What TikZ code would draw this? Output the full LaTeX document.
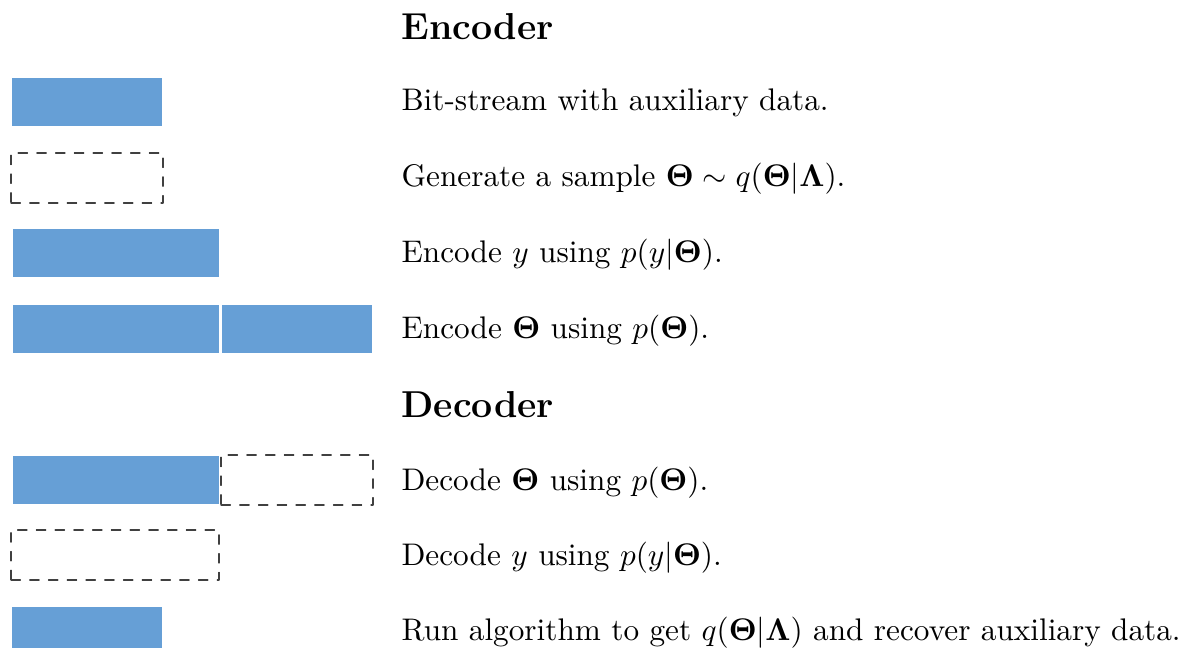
\documentclass[tikz,border=0pt]{standalone}
\usepackage{amsmath,amssymb}
\usepackage{xcolor}
\usetikzlibrary{positioning}

\definecolor{blockblue}{RGB}{102,159,214}

\begin{document}
\begin{tikzpicture}[
  x=0.32pt, y=-0.32pt,
  line cap=round,
  line join=round,
  block/.style={anchor=north west, inner sep=0pt, outer sep=0pt,
    minimum height=50*0.32pt},
  bitsfull/.style={block, fill=blockblue, draw=white, line width=0.4pt},
  bitsempty/.style={block, draw=black!75, dashed, line width=0.4pt},
  short/.style={minimum width=152*0.32pt},
  long/.style={minimum width=208*0.32pt},
  step text/.style={anchor=base west, inner sep=0pt, font=\normalsize},
  heading/.style={anchor=base west, inner sep=0pt, font=\large\bfseries}
]
  \useasboundingbox (0,0) rectangle (1181,648);

  % Encoder
  \node[heading] (enc) at (401,39) {Encoder};

  \node[bitsfull, short]  (aux1)   at (11,77)   {};
  \node[bitsempty, short] (samp)   at (11,153)  {};
  \node[bitsfull, long]   (ybits)  at (12,228)  {};
  \node[bitsfull, long]   (ybits2) at (12,304)  {};
  \node[bitsfull, short]  (tbits)  at (221,304) {};

  \node[step text] (s1) at (401,110) {Bit-stream with auxiliary data.};
  \node[step text] (s2) at (401,186) {Generate a sample $\boldsymbol{\Theta}\sim q(\boldsymbol{\Theta}|\boldsymbol{\Lambda})$.};
  \node[step text] (s3) at (401,262) {Encode $y$ using $p(y|\boldsymbol{\Theta})$.};
  \node[step text] (s4) at (401,338) {Encode $\boldsymbol{\Theta}$ using $p(\boldsymbol{\Theta})$.};

  % Decoder
  \node[heading] (dec) at (401,417) {Decoder};

  \node[bitsfull, long]   (ybits3) at (12,455)  {};
  \node[bitsempty, short] (tgone)  at (221,455) {};
  \node[bitsempty, long]  (ygone)  at (11,530)  {};
  \node[bitsfull, short]  (aux2)   at (11,606)  {};

  \node[step text] (s5) at (401,490) {Decode $\boldsymbol{\Theta}$ using $p(\boldsymbol{\Theta})$.};
  \node[step text] (s6) at (401,565) {Decode $y$ using $p(y|\boldsymbol{\Theta})$.};
  \node[step text] (s7) at (401,640) {Run algorithm to get $q(\boldsymbol{\Theta}|\boldsymbol{\Lambda})$ and recover auxiliary data.};
\end{tikzpicture}
\end{document}
